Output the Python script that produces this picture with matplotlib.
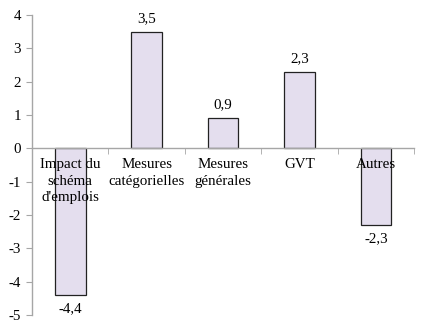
import matplotlib.pyplot as plt
from matplotlib.ticker import FixedLocator

plt.rcParams['font.family'] = ['Liberation Serif', 'DejaVu Serif']
plt.rcParams['axes.unicode_minus'] = False

# ---------- DATA ----------
categories = ["Impact du\nschéma\nd'emplois", "Mesures\ncatégorielles",
              "Mesures\ngénérales", "GVT", "Autres"]
values = [-4.4, 3.5, 0.9, 2.3, -2.3]
yticks = [-5, -4, -3, -2, -1, 0, 1, 2, 3, 4]

BAR_COLOR = '#E4DEEE'
AXIS_COLOR = '#A6A6A6'
FS = 10.8

fig = plt.figure(figsize=(4.3, 3.31), dpi=100)
ax = fig.add_axes([0.0744, 0.048, 0.889, 0.907])

x = range(len(categories))
ax.bar(x, values, width=0.4, color=BAR_COLOR, edgecolor='#222222', linewidth=0.9, zorder=1)

# value labels, comma as decimal separator
for xi, v in zip(x, values):
    txt = f"{v:.1f}".replace('.', ',')
    if v >= 0:
        ax.text(xi, v + 0.2, txt, ha='center', va='bottom', fontsize=FS)
    else:
        ax.text(xi, v - 0.2, txt, ha='center', va='top', fontsize=FS)

ax.set_xlim(-0.5, len(categories) - 0.5)
ax.set_ylim(-5, 4)
ax.set_yticks(yticks)
ax.set_yticklabels([str(t) for t in yticks], fontsize=FS)

# category axis sits on zero
ax.spines['bottom'].set_position(('data', 0))
for s in ['top', 'right']:
    ax.spines[s].set_visible(False)
for s in ['bottom', 'left']:
    ax.spines[s].set_color(AXIS_COLOR)
    ax.spines[s].set_linewidth(1.0)
    ax.spines[s].set_zorder(3)

ax.set_xticks(list(x))
ax.set_xticklabels(categories, fontsize=FS, linespacing=1.35, va='top')
ax.tick_params(axis='x', which='major', length=0, pad=7)
ax.xaxis.set_minor_locator(FixedLocator([i + 0.5 for i in range(len(categories))]))
ax.tick_params(axis='x', which='minor', direction='out', length=4, color=AXIS_COLOR)
ax.tick_params(axis='y', direction='out', length=4, color=AXIS_COLOR, pad=4)

fig.savefig('out.png', dpi=100)
